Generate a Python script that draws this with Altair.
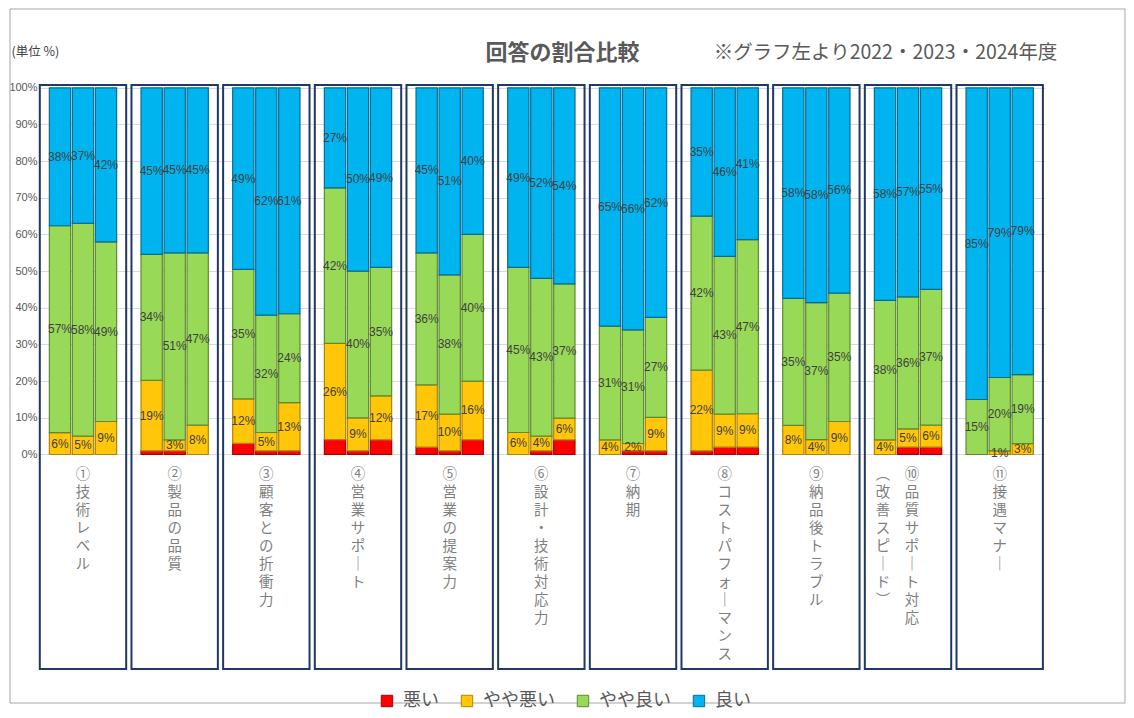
import altair as alt
import pandas as pd

categories = ["①技術レベル", "②製品の品質", "③顧客との折衝力", "④営業サポート", "⑤営業の提案力",
              "⑥設計・技術対応力", "⑦納期", "⑧コストパフォーマンス", "⑨納品後トラブル",
              "⑩品質サポート対応（改善スピード）", "⑪接遇マナー"]
years = ["2022", "2023", "2024"]
series = ["悪い", "やや悪い", "やや良い", "良い"]

# values per category, [2022, 2023, 2024] (%)
bad = [[0, 0, 0], [1, 1, 0], [3, 1, 1], [4, 1, 4], [2, 1, 4], [0, 1, 4],
       [0, 1, 1], [1, 2, 2], [0, 0, 0], [0, 2, 2], [0, 0, 0]]
somewhat_bad = [[6, 5, 9], [19, 3, 8], [12, 5, 13], [26, 9, 12], [17, 10, 16], [6, 4, 6],
                [4, 2, 9], [22, 9, 9], [8, 4, 9], [4, 5, 6], [0, 1, 3]]
somewhat_good = [[57, 58, 49], [34, 51, 47], [35, 32, 24], [42, 40, 35], [36, 38, 40], [45, 43, 37],
                 [31, 31, 27], [42, 43, 47], [35, 37, 35], [38, 36, 37], [15, 20, 19]]
good = [[38, 37, 42], [45, 45, 45], [49, 62, 61], [27, 50, 49], [45, 51, 40], [49, 52, 54],
        [65, 66, 62], [35, 46, 41], [58, 58, 56], [58, 57, 55], [85, 79, 79]]

series_colors = ["#FF0000", "#FFC60A", "#98D957", "#00B4F0"]
series_edges = ["#A80000", "#B08400", "#5E8A2E", "#0B6A94"]

rows = []
for si, (s, arr) in enumerate(zip(series, [bad, somewhat_bad, somewhat_good, good])):
    for ci, c in enumerate(categories):
        for yi, yr in enumerate(years):
            rows.append({"category": c, "year": yr, "series": s, "order": si, "value": arr[ci][yi]})
df = pd.DataFrame(rows)


def vertical(s):
    tr = {"ー": "｜", "（": "︵", "）": "︶"}
    return "\n".join(tr.get(ch, ch) for ch in s)


lab_rows = []
for c in categories:
    if "（" in c:
        i = c.index("（")
        lab_rows.append({"category": c, "col": 1, "text": vertical(c[:i])})
        lab_rows.append({"category": c, "col": 2, "text": vertical(c[i:])})
    else:
        lab_rows.append({"category": c, "col": 0, "text": vertical(c)})
lab_df = pd.DataFrame(lab_rows)
cat_df = pd.DataFrame({"category": categories})

W, H = 1006.7, 585
x_enc = alt.X("category:N", sort=categories,
              scale=alt.Scale(domain=categories, paddingInner=0.0575, paddingOuter=0.0196), axis=None)
xo_enc = alt.XOffset("year:N", sort=years,
                     scale=alt.Scale(domain=years, paddingInner=0.074, paddingOuter=0.4155))
y_scale = alt.Scale(domain=[-58.77, 100.76], nice=False, zero=False)
y_axis = alt.Axis(values=list(range(0, 101, 10)), labelExpr="datum.value + '%'", title=None,
                  domain=False, ticks=False, grid=True, gridColor="#D9D9D9", gridWidth=1,
                  labelColor="#595959", labelFontSize=11, labelFont="Liberation Sans",
                  labelPadding=1)

leg = alt.Legend(title=None, orient="none", legendX=340, legendY=607, direction="horizontal",
                 columns=4, symbolType="square", symbolSize=130, symbolStrokeWidth=1,
                 labelFont="Noto Sans CJK JP", labelFontSize=18, labelColor="#595959",
                 labelOffset=7, columnPadding=19, padding=0)

base = alt.Chart(df).transform_filter("datum.value > 0").transform_stack(
    stack="value", groupby=["category", "year"], as_=["v0", "v1"], offset="normalize",
    sort=[alt.SortField(field="order", order="ascending")]
).transform_calculate(
    y0="datum.v0 * 100", y1="datum.v1 * 100", ymid="(datum.v0 + datum.v1) * 50",
    label="datum.value + '%'"
)

border = alt.Chart(pd.DataFrame({"a": [0]})).mark_rect(
    filled=False, stroke="#A6A6A6", strokeWidth=1
).encode(x=alt.value(-28), x2=alt.value(1087), y=alt.value(-76), y2=alt.value(618))

boxes = alt.Chart(cat_df).mark_bar(filled=False, stroke="#1F3864", strokeWidth=2).encode(
    x=x_enc, y=alt.value(0), y2=alt.value(584)
)

bars = base.mark_bar(strokeWidth=1.2).encode(
    x=x_enc,
    xOffset=xo_enc,
    y=alt.Y("y0:Q", scale=y_scale, axis=y_axis),
    y2="y1:Q",
    color=alt.Color("series:N", scale=alt.Scale(domain=series, range=series_colors), legend=leg),
    stroke=alt.Stroke("series:N", scale=alt.Scale(domain=series, range=series_edges), legend=leg),
)

vals = base.transform_filter("datum.series != '悪い'").mark_text(
    font="Liberation Sans", fontSize=12, color="#404040"
).encode(
    x=x_enc, xOffset=xo_enc, y=alt.Y("ymid:Q", axis=y_axis), text="label:N"
)

cat_common = dict(font="Noto Sans CJK JP", fontSize=14.5, lineHeight=18, color="#7F7F7F",
                  baseline="top", lineBreak="\n")
cat0 = alt.Chart(lab_df).transform_filter("datum.col == 0").mark_text(**cat_common).encode(
    x=x_enc, y=alt.Y(datum=-3.8, axis=y_axis), text="text:N")
cat1 = alt.Chart(lab_df).transform_filter("datum.col == 1").mark_text(dx=4, **cat_common).encode(
    x=x_enc, y=alt.Y(datum=-3.8, axis=y_axis), text="text:N")
cat2 = alt.Chart(lab_df).transform_filter("datum.col == 2").mark_text(dx=-25, **cat_common).encode(
    x=x_enc, y=alt.Y(datum=-3.8, axis=y_axis), text="text:N")

t_df = pd.DataFrame({"title": ["回答の割合比較"], "sub": ["※グラフ左より2022・2023・2024年度"],
                     "unit": ["(単位 %)"]})
title = alt.Chart(t_df).mark_text(font="Noto Sans CJK JP", fontSize=22, fontWeight="bold",
                                  color="#595959", align="center", baseline="middle").encode(
    text="title:N", x=alt.value(524.5), y=alt.value(-32))
subtitle = alt.Chart(t_df).mark_text(font="Noto Sans CJK JP", fontSize=19.5, color="#595959",
                                     align="center", baseline="middle").encode(
    text="sub:N", x=alt.value(847.5), y=alt.value(-32))
unit = alt.Chart(t_df).mark_text(font="Noto Sans CJK JP", fontSize=12.5, color="#404040",
                                 align="left", baseline="middle").encode(
    text="unit:N", x=alt.value(-26.5), y=alt.value(-33))

chart = alt.layer(border, boxes, bars, vals, cat0, cat1, cat2, title, subtitle, unit).properties(
    width=W, height=H, padding=0
).configure_view(strokeWidth=0)

chart.save("out.html", embed_options={"renderer": "svg", "actions": False})
